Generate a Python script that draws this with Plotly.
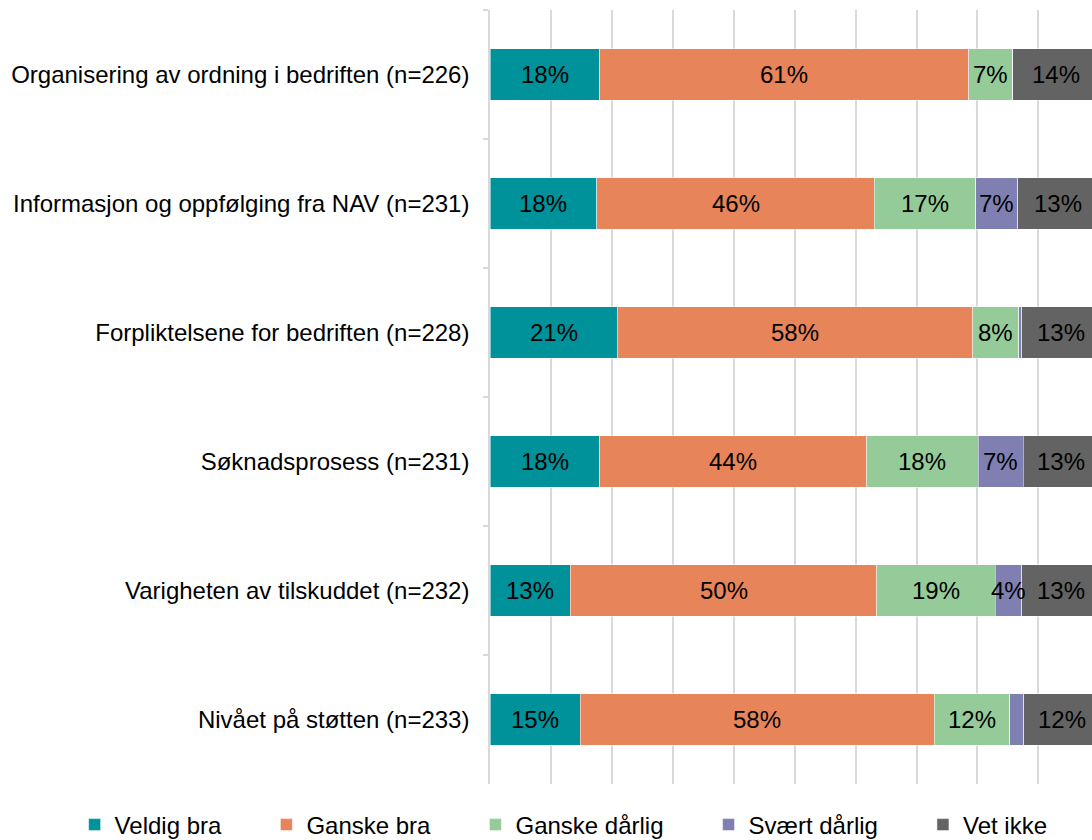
import plotly.graph_objects as go

categories = [
    "Organisering av ordning i bedriften (n=226)",
    "Informasjon og oppfølging fra NAV (n=231)",
    "Forpliktelsene for bedriften (n=228)",
    "Søknadsprosess (n=231)",
    "Varigheten av tilskuddet (n=232)",
    "Nivået på støtten (n=233)",
]
series_names = ["Veldig bra", "Ganske bra", "Ganske dårlig", "Svært dårlig", "Vet ikke"]

veldig_bra = [18.0, 17.5, 20.9, 18.0, 13.2, 14.8]
ganske_bra = [60.6, 45.6, 58.3, 43.8, 50.3, 58.1]
ganske_darlig = [7.2, 16.6, 7.6, 18.3, 19.4, 12.4]
svaert_darlig = [0.0, 6.9, 0.5, 7.4, 4.4, 2.3]
vet_ikke = [14.2, 13.4, 12.7, 12.5, 12.7, 12.4]

veldig_bra_labels = ["18%", "18%", "21%", "18%", "13%", "15%"]
ganske_bra_labels = ["61%", "46%", "58%", "44%", "50%", "58%"]
ganske_darlig_labels = ["7%", "17%", "8%", "18%", "19%", "12%"]
svaert_darlig_labels = ["", "7%", "", "7%", "4%", ""]
vet_ikke_labels = ["14%", "13%", "13%", "13%", "13%", "12%"]

colors = ["#00929A", "#E8845A", "#95CB98", "#7F7FB2", "#636363"]

series_values = [veldig_bra, ganske_bra, ganske_darlig, svaert_darlig, vet_ikke]
series_labels = [veldig_bra_labels, ganske_bra_labels, ganske_darlig_labels,
                 svaert_darlig_labels, vet_ikke_labels]

FONT = "Arial, Liberation Sans, Helvetica, sans-serif"
FS = 24
PAD = "\u00a0" * 6

fig = go.Figure()
annotations = []
cum = [0.0] * len(categories)
for name, vals, labs, col in zip(series_names, series_values, series_labels, colors):
    fig.add_trace(go.Bar(
        y=categories, x=vals, orientation="h", name=name + PAD,
        marker=dict(color=col, line=dict(color="white", width=0.5)),
        hoverinfo="x+y+name",
    ))
    for i, (v, lab) in enumerate(zip(vals, labs)):
        if lab:
            annotations.append(dict(
                x=cum[i] + v / 2, y=categories[i], xref="x", yref="y",
                text=lab, showarrow=False,
                font=dict(family=FONT, size=FS, color="black"),
            ))
        cum[i] += v

fig.update_layout(
    barmode="stack",
    bargap=0.6,
    width=1092, height=840,
    margin=dict(l=490, r=0, t=10, b=56, autoexpand=False),
    paper_bgcolor="white", plot_bgcolor="white",
    font=dict(family=FONT, size=FS, color="black"),
    annotations=annotations,
    showlegend=True,
    legend=dict(
        orientation="h", x=-0.690, xanchor="left", y=-0.053, yanchor="middle",
        font=dict(family=FONT, size=FS, color="black"),
        traceorder="normal",
    ),
)
fig.update_xaxes(
    range=[0, 98.8], dtick=10, showticklabels=False, ticks="",
    showgrid=True, gridcolor="#D9D9D9", gridwidth=1.5,
    zeroline=False, showline=False, fixedrange=True,
)
fig.update_yaxes(
    autorange="reversed", showline=True, linecolor="#D9D9D9", linewidth=1.5,
    ticks="outside", tickson="boundaries", ticklen=5, tickcolor="#D9D9D9",
    tickwidth=1.5, showgrid=False, ticklabelstandoff=14,
    tickfont=dict(family=FONT, size=FS, color="black"),
)

# Remove the browser's default body margin so the figure fills the window exactly.
fig.write_html(
    "out.html",
    config={"displayModeBar": False},
    post_script="document.body.style.margin='0';",
)
